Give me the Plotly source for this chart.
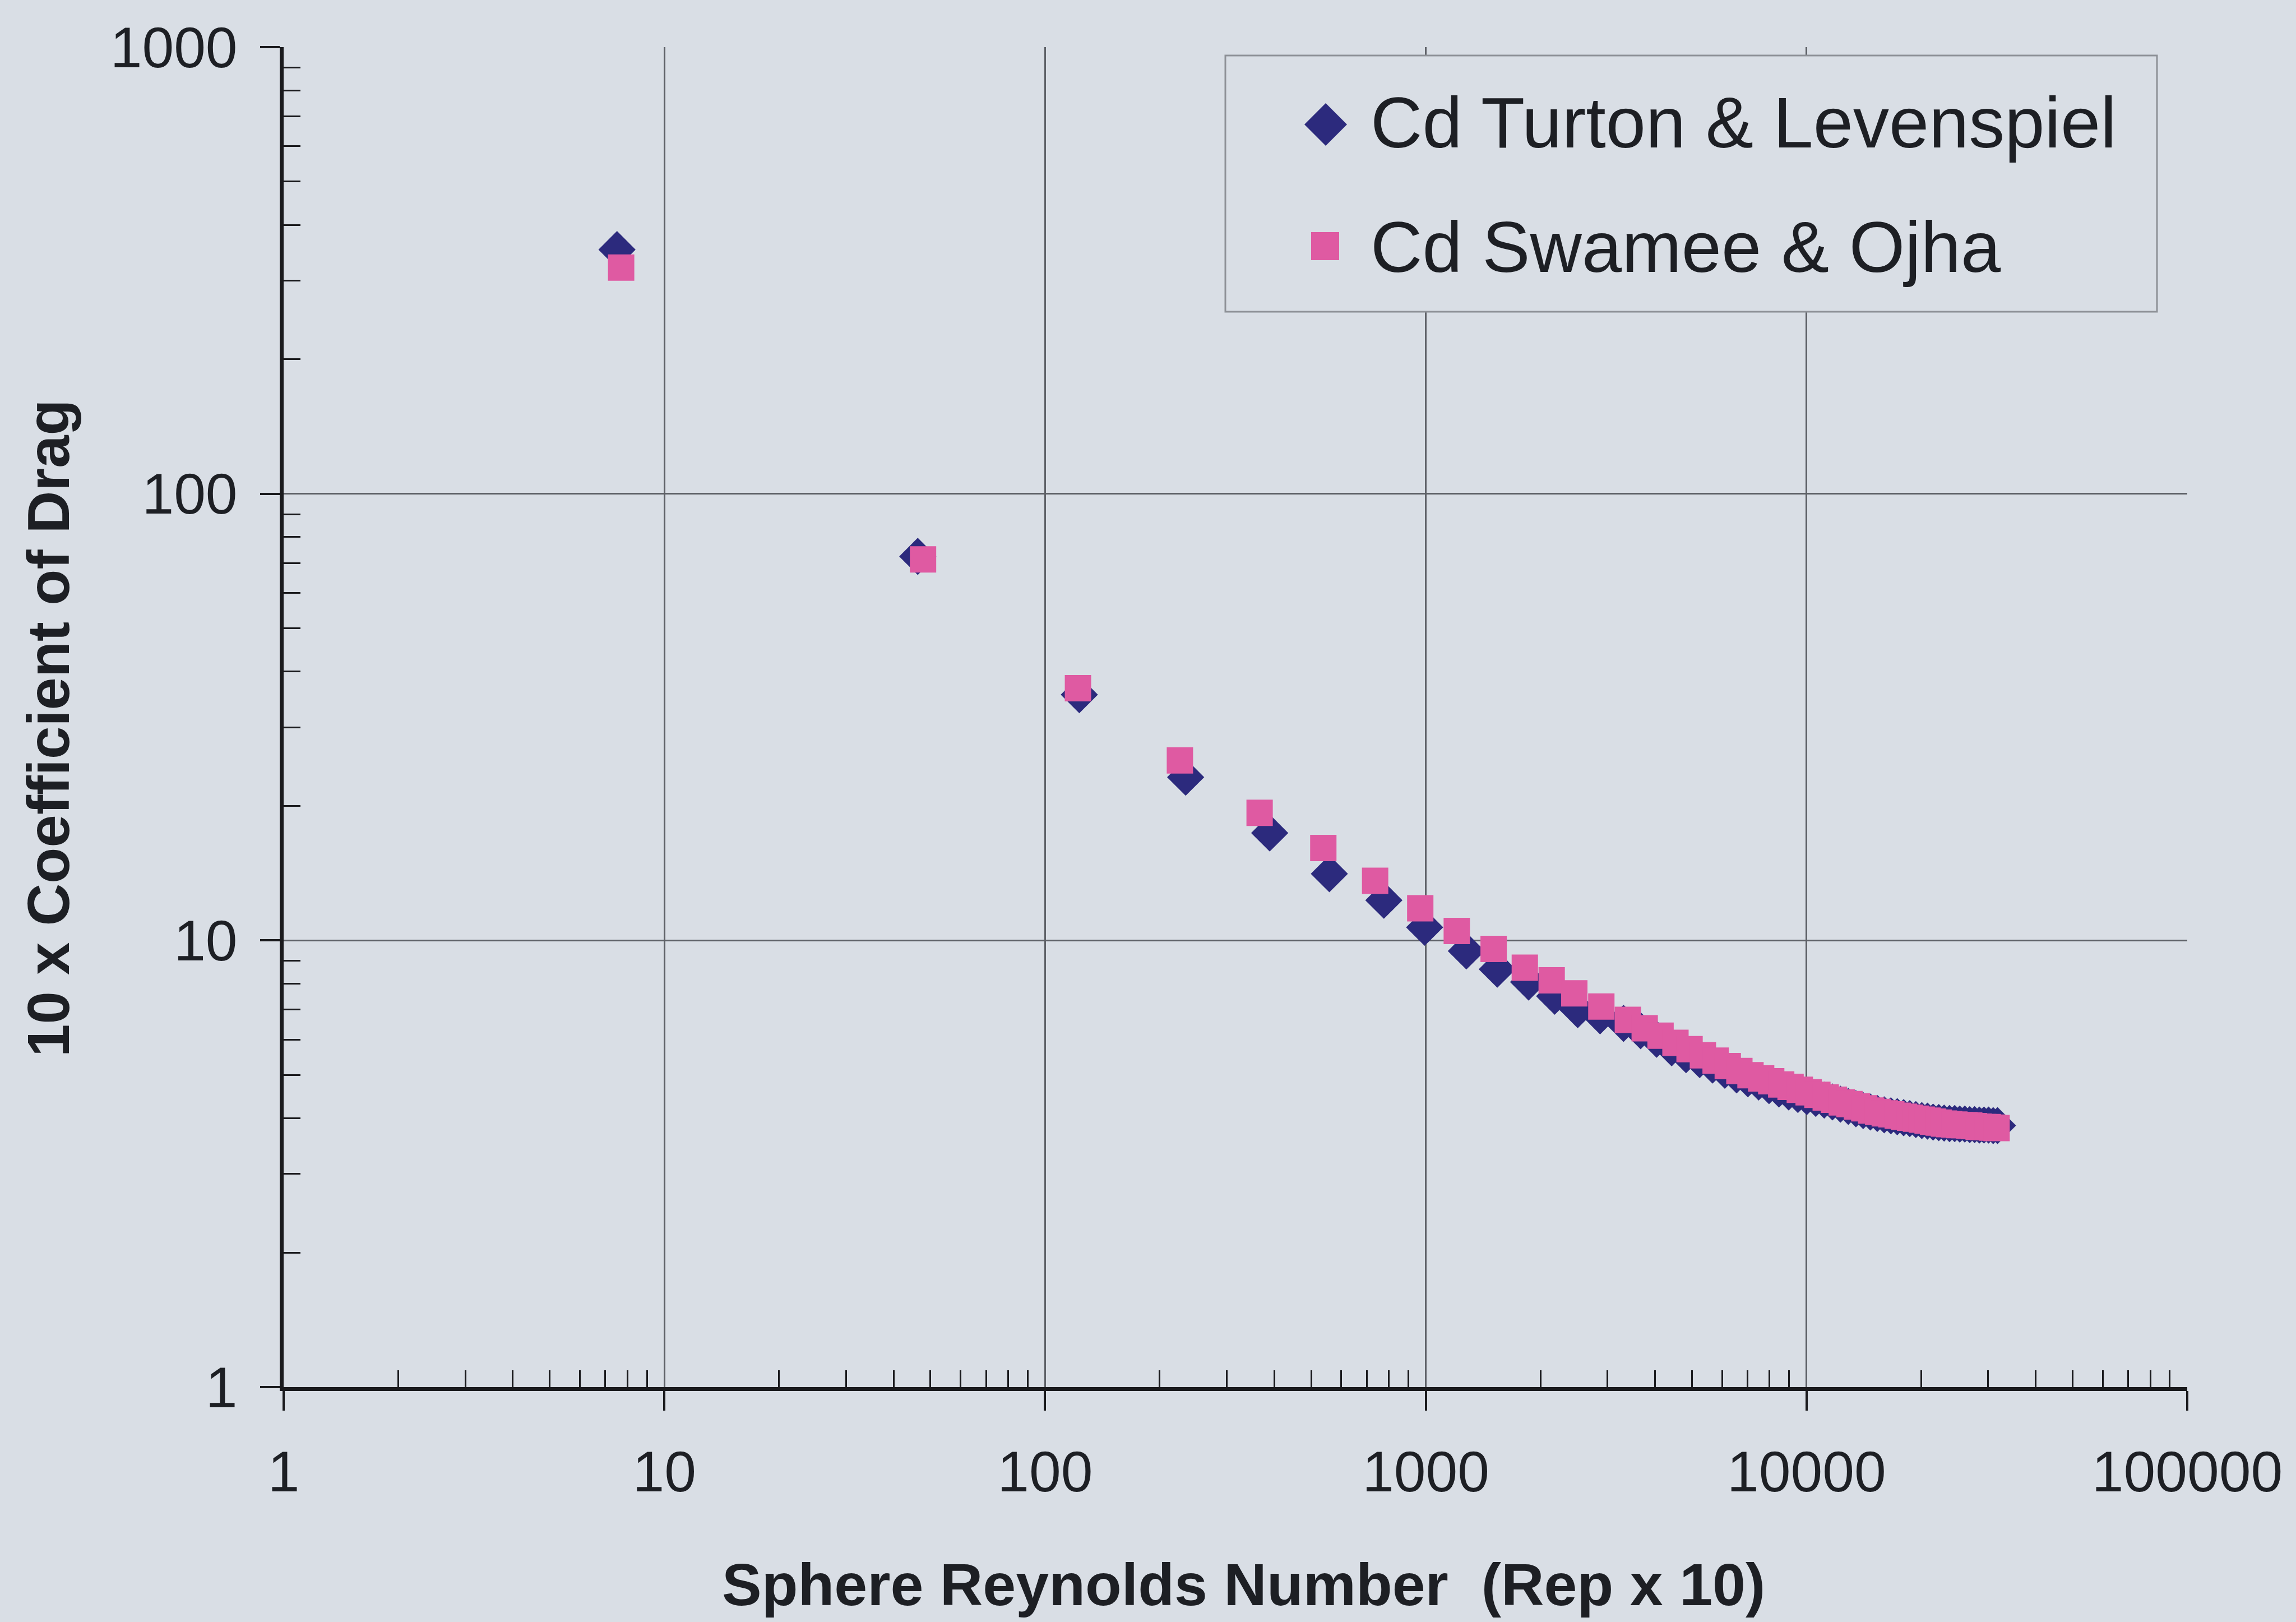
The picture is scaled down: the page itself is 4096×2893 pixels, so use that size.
import plotly.graph_objects as go

# ---- data: sphere Reynolds number (Rep x 10) and 10 x drag coefficient ----
re_turton = [7.51, 46.3, 123, 234, 389, 558, 776, 993, 1278, 1541, 1862, 2180, 2506, 2869,
             3306, 3666, 4039, 4423, 4826, 5240, 5664, 6101, 6551, 7013, 7485, 7970, 8465,
             8977, 9491, 10018, 10573, 11129, 11695, 12278, 12875, 13480, 14086, 14709,
             15342, 15993, 16654, 17311, 17994, 18669, 19370, 20079, 20780, 21500, 22251,
             22981, 23740, 24500, 25256, 26042, 26827, 27635, 28442, 29242, 30069, 30918,
             31738]
cd_turton = [352, 72.4, 35.5, 23.2, 17.4, 14.1, 12.3, 10.7, 9.47, 8.62, 8.07, 7.50, 7.00, 6.78,
             6.52, 6.28, 6.01, 5.75, 5.55, 5.41, 5.26, 5.12, 5.00, 4.90, 4.82, 4.73, 4.65,
             4.58, 4.52, 4.47, 4.43, 4.39, 4.35, 4.30, 4.25, 4.20, 4.16, 4.13, 4.10, 4.07,
             4.05, 4.03, 4.01, 3.99, 3.97, 3.95, 3.94, 3.92, 3.91, 3.90, 3.89, 3.89, 3.88,
             3.88, 3.87, 3.87, 3.86, 3.86, 3.86, 3.85, 3.85]

re_swamee = [7.7, 47.8, 122, 226, 366, 538, 736, 967, 1206, 1507, 1820, 2141, 2455, 2891,
             3394, 3758, 4136, 4526, 4929, 5343, 5770, 6210, 6662, 7125, 7600, 8077, 8579,
             9081, 9601, 10127, 10679, 11231, 11801, 12376, 12967, 13564, 14177, 14787,
             15413, 16050, 16700, 17359, 18027, 18703, 19387, 20079, 20797, 21500, 22231,
             22961, 23696, 24456, 25215, 25976, 26753, 27534, 28314, 29107, 29937, 30726,
             31563]
cd_swamee = [321, 71.3, 36.7, 25.3, 19.3, 16.1, 13.6, 11.8, 10.5, 9.57, 8.69, 8.14, 7.61, 7.11,
             6.64, 6.36, 6.12, 5.90, 5.71, 5.53, 5.38, 5.23, 5.10, 4.99, 4.91, 4.84, 4.76,
             4.70, 4.63, 4.57, 4.51, 4.45, 4.40, 4.34, 4.30, 4.25, 4.21, 4.16, 4.13, 4.10,
             4.08, 4.05, 4.03, 4.01, 3.99, 3.97, 3.95, 3.93, 3.91, 3.89, 3.88, 3.87, 3.86,
             3.86, 3.85, 3.84, 3.83, 3.82, 3.82, 3.81, 3.80]

series_names = ["Cd Turton & Levenspiel", "Cd Swamee & Ojha"]

x_tickvals = [1, 10, 100, 1000, 10000, 100000]
x_ticktext = ["1", "10", "100", "1000", "10000", "100000"]
y_tickvals = [1, 10, 100, 1000]
y_ticktext = ["1", "10", "100", "1000"]

x_title = "Sphere Reynolds Number\u00a0 (Rep x 10)"
y_title = "10 x Coefficient of Drag"

# ---- styling ----
W, H = 4096, 2893
L, R, T, B = 506, 3902, 84, 2474          # plot-area box in pixels
BG = "#d9dee5"
GRID = "#5e6167"
AX = "#1a1a1d"
TXT = "#1d1f24"
NAVY = "#2c2a7d"
PINK = "#df5aa2"
FONT = "Liberation Sans, Arial, sans-serif"


def px(x):
    return (x - L) / (R - L)


def py(y):
    return (B - y) / (B - T)


minor_x = [m * 10 ** e for e in range(5) for m in range(2, 10)]
minor_y = [m * 10 ** e for e in range(3) for m in range(2, 10)]

fig = go.Figure()
fig.add_trace(go.Scatter(
    x=re_turton, y=cd_turton, mode="markers", name=series_names[0],
    marker=dict(symbol="diamond", size=51, color=NAVY, line=dict(width=0)),
))
fig.add_trace(go.Scatter(
    x=re_swamee, y=cd_swamee, mode="markers", name=series_names[1],
    marker=dict(symbol="square", size=47, color=PINK, line=dict(width=0)),
))

axis_common = dict(
    type="log", automargin=False,
    showgrid=True, gridcolor=GRID, gridwidth=2.5,
    showline=True, linecolor=AX, linewidth=7,
    ticks="outside", ticklen=35, tickwidth=3.5, tickcolor=AX,
    tickfont=dict(family=FONT, size=102, color=TXT),
    zeroline=False, tickmode="array",
)

fig.update_xaxes(
    **axis_common, range=[0, 5], tickvals=x_tickvals, ticktext=x_ticktext,
    ticklabelstandoff=22,
    minor=dict(tickmode="array", tickvals=minor_x, ticks="inside", ticklen=30,
               tickwidth=3, tickcolor=AX, showgrid=False),
)
fig.update_yaxes(
    **axis_common, range=[0, 3], tickvals=y_tickvals, ticktext=y_ticktext,
    ticklabelstandoff=20,
    minor=dict(tickmode="array", tickvals=minor_y, ticks="inside", ticklen=30,
               tickwidth=3, tickcolor=AX, showgrid=False),
)

# legend box with marker swatches
shapes = [
    dict(type="rect", xref="paper", yref="paper", layer="above",
         x0=px(2186), x1=px(3848), y0=py(556), y1=py(99),
         fillcolor=BG, line=dict(color="#8e9197", width=3)),
]
dcx, dcy, dh = 2365, 222, 38
shapes.append(dict(
    type="path", xref="paper", yref="paper", layer="above",
    path=(f"M {px(dcx - dh)},{py(dcy)} L {px(dcx)},{py(dcy - dh)} "
          f"L {px(dcx + dh)},{py(dcy)} L {px(dcx)},{py(dcy + dh)} Z"),
    fillcolor=NAVY, line=dict(width=0),
))
scx, scy, sh = 2364, 439, 25
shapes.append(dict(
    type="rect", xref="paper", yref="paper", layer="above",
    x0=px(scx - sh), x1=px(scx + sh), y0=py(scy + sh), y1=py(scy - sh),
    fillcolor=PINK, line=dict(width=0),
))

annotations = [
    dict(text=series_names[0], x=px(2443), y=py(218), xref="paper", yref="paper",
         xanchor="left", yanchor="middle", showarrow=False,
         font=dict(family=FONT, size=128, color=TXT)),
    dict(text=series_names[1], x=px(2443), y=py(440), xref="paper", yref="paper",
         xanchor="left", yanchor="middle", showarrow=False,
         font=dict(family=FONT, size=128, color=TXT)),
    dict(text=f"<b>{x_title}</b>", x=px(2218), y=py(2826), xref="paper", yref="paper",
         xanchor="center", yanchor="middle", showarrow=False,
         font=dict(family=FONT, size=106, color=TXT)),
    dict(text=f"<b>{y_title}</b>", x=px(86), y=py(1299), xref="paper", yref="paper",
         xanchor="center", yanchor="middle", textangle=-90, showarrow=False,
         font=dict(family=FONT, size=105, color=TXT)),
]

fig.update_layout(
    width=W, height=H, autosize=False,
    margin=dict(l=L, r=W - R, t=T, b=H - B, pad=0),
    paper_bgcolor=BG, plot_bgcolor=BG,
    showlegend=False,
    shapes=shapes, annotations=annotations,
    font=dict(family=FONT, color=TXT),
)

fig.write_html("out.html")
